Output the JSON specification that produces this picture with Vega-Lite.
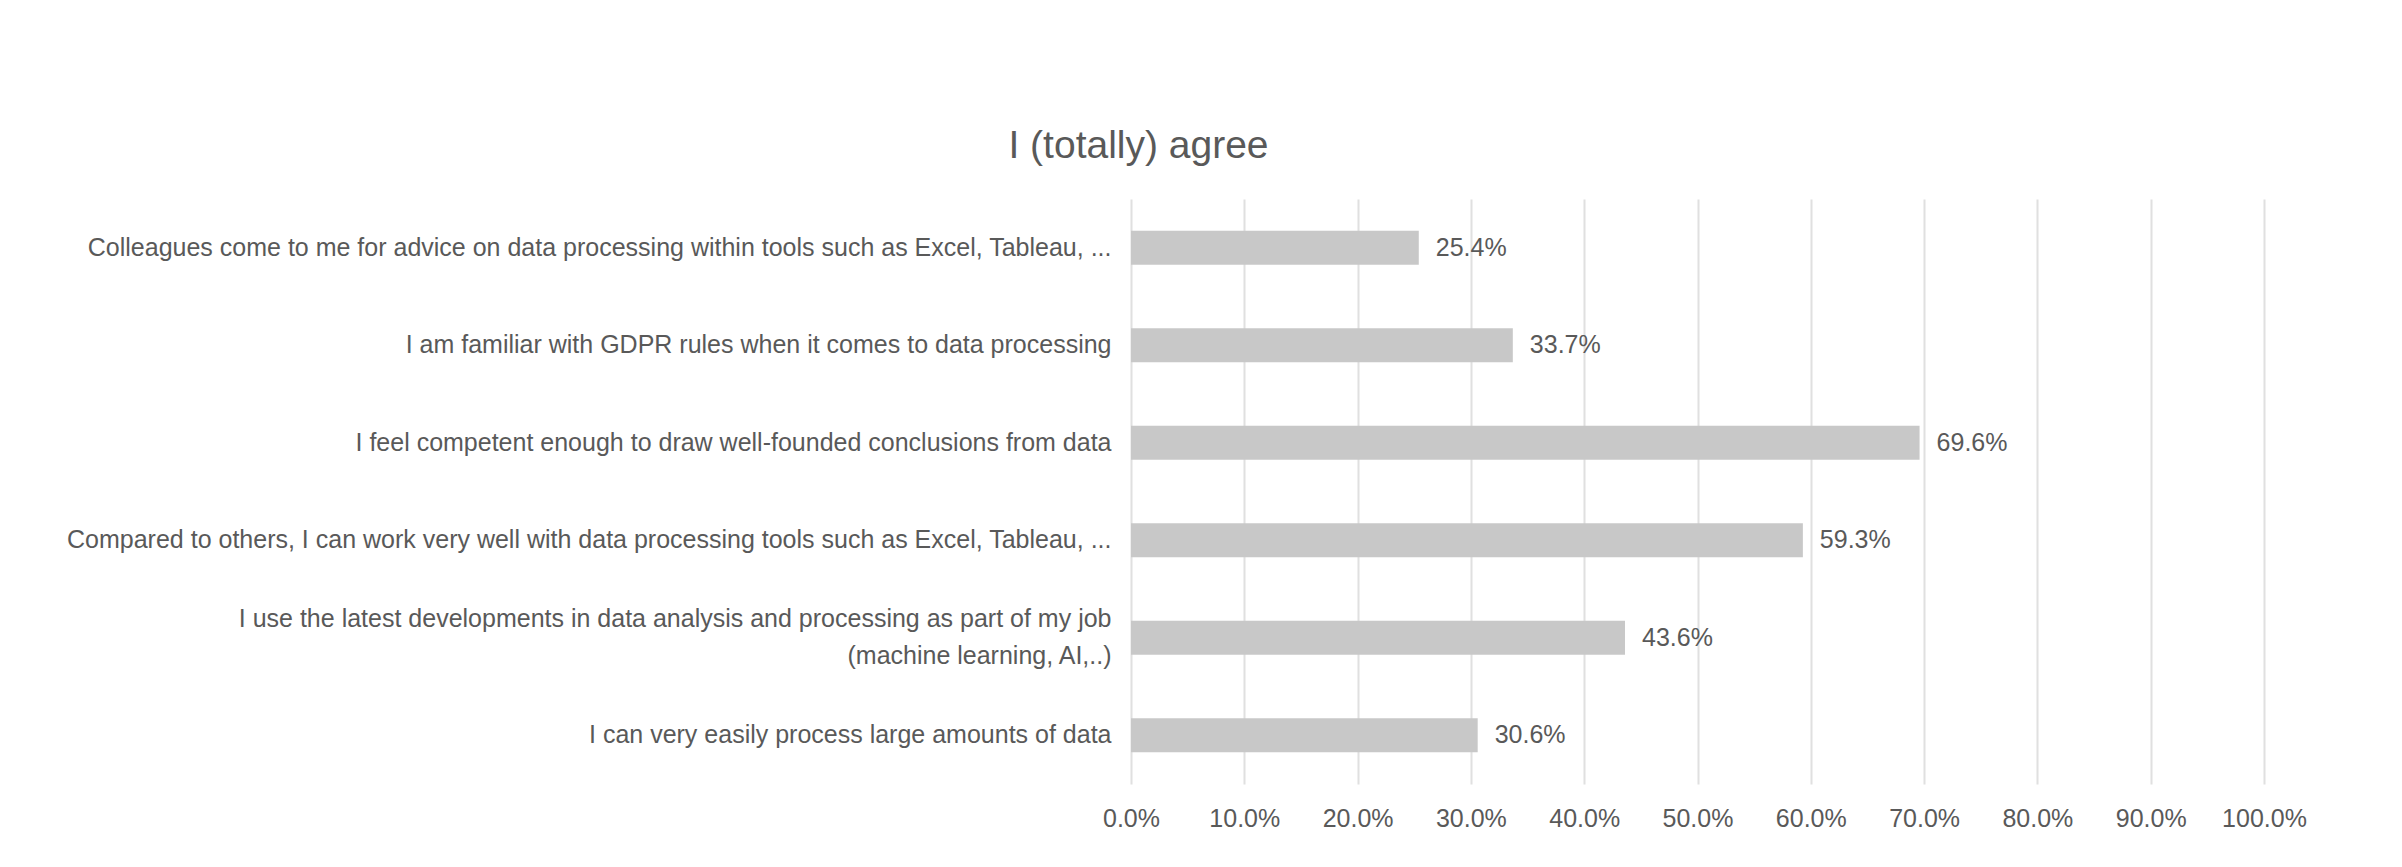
{
  "$schema": "https://vega.github.io/schema/vega-lite/v6.json",
  "width": 1133,
  "height": 585,
  "autosize": {"type": "none"},
  "padding": {"left": 1131, "top": 199, "right": 138, "bottom": 83},
  "background": "white",
  "title": {
    "text": "I (totally) agree",
    "fontSize": 39,
    "font": "Liberation Sans",
    "fontWeight": "normal",
    "color": "#595959",
    "anchor": "middle",
    "frame": "group",
    "dx": -559,
    "offset": 33
  },
  "data": {
    "values": [
      {"statement": "Colleagues come to me for advice on data processing within tools such as Excel, Tableau, ...", "pct": 0.254},
      {"statement": "I am familiar with GDPR rules when it comes to data processing", "pct": 0.337},
      {"statement": "I feel competent enough to draw well-founded conclusions from data", "pct": 0.696},
      {"statement": "Compared to others, I can work very well with data processing tools such as Excel, Tableau, ...", "pct": 0.593},
      {"statement": "I use the latest developments in data analysis and processing as part of my job|(machine learning, AI,..)", "pct": 0.436},
      {"statement": "I can very easily process large amounts of data", "pct": 0.306}
    ]
  },
  "encoding": {
    "y": {
      "field": "statement",
      "type": "nominal",
      "sort": null,
      "scale": {"paddingInner": 0.65, "paddingOuter": 0.325},
      "axis": {
        "title": null,
        "domain": false,
        "ticks": false,
        "grid": false,
        "labelFontSize": 25,
        "labelColor": "#595959",
        "labelFont": "Liberation Sans",
        "labelPadding": 20,
        "labelLimit": 0,
        "labelExpr": "split(datum.value, '|')",
        "labelLineHeight": 37,
        "labelOffset": {"condition": {"test": "indexof(datum.value, '|') >= 0", "value": -19}, "value": 0}
      }
    },
    "x": {
      "field": "pct",
      "type": "quantitative",
      "scale": {"domain": [0, 1], "nice": false},
      "axis": {
        "title": null,
        "values": [0, 0.1, 0.2, 0.3, 0.4, 0.5, 0.6, 0.7, 0.8, 0.9, 1.0],
        "format": ".1%",
        "domain": false,
        "ticks": false,
        "grid": true,
        "gridColor": "#e0e0e0",
        "gridWidth": 2,
        "labelOverlap": false,
        "labelFlush": false,
        "labelFontSize": 25,
        "labelFont": "Liberation Sans",
        "labelColor": "#595959",
        "labelPadding": 22
      }
    }
  },
  "layer": [
    {"mark": {"type": "bar", "color": "#c8c8c8"}},
    {
      "mark": {"type": "text", "align": "left", "baseline": "middle", "dx": 17, "fontSize": 25, "color": "#595959", "font": "Liberation Sans"},
      "encoding": {"text": {"field": "pct", "type": "quantitative", "format": ".1%"}}
    }
  ],
  "config": {"view": {"stroke": null}}
}
